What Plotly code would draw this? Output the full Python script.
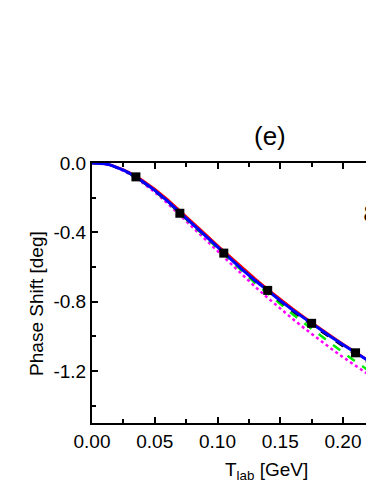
import plotly.graph_objects as go

# lab kinetic energy grid [GeV]
t_lab = [0.0, 0.005, 0.01, 0.015, 0.02, 0.025, 0.03, 0.035, 0.04, 0.045,
         0.05, 0.06, 0.07, 0.08, 0.09, 0.10, 0.11, 0.12, 0.13, 0.14,
         0.15, 0.16, 0.17, 0.18, 0.19, 0.20, 0.21, 0.22, 0.23]

blue_shift = [0.0, -0.001, -0.004, -0.012, -0.025, -0.041, -0.059, -0.081, -0.105, -0.131,
              -0.158, -0.219, -0.285, -0.352, -0.419, -0.486, -0.552, -0.616, -0.678, -0.737,
              -0.794, -0.849, -0.901, -0.952, -1.001, -1.048, -1.094, -1.140, -1.185]
red_shift = [0.0, -0.001, -0.004, -0.011, -0.023, -0.038, -0.055, -0.076, -0.099, -0.124,
             -0.150, -0.209, -0.274, -0.341, -0.408, -0.475, -0.541, -0.605, -0.668, -0.728,
             -0.786, -0.841, -0.894, -0.946, -0.996, -1.044, -1.091, -1.138, -1.185]
black_shift = [0.0, -0.001, -0.004, -0.012, -0.025, -0.042, -0.060, -0.082, -0.106, -0.132,
               -0.159, -0.221, -0.287, -0.354, -0.421, -0.488, -0.554, -0.619, -0.681, -0.741,
               -0.799, -0.855, -0.908, -0.959, -1.009, -1.057, -1.104, -1.151, -1.197]
green_shift = [0.0, -0.001, -0.004, -0.012, -0.025, -0.042, -0.060, -0.082, -0.107, -0.133,
               -0.161, -0.223, -0.290, -0.358, -0.426, -0.494, -0.561, -0.627, -0.692, -0.753,
               -0.814, -0.873, -0.929, -0.985, -1.040, -1.093, -1.145, -1.196, -1.245]
magenta_shift = [0.0, -0.001, -0.004, -0.013, -0.027, -0.045, -0.064, -0.087, -0.113, -0.140,
                 -0.168, -0.232, -0.301, -0.371, -0.441, -0.511, -0.580, -0.648, -0.714, -0.778,
                 -0.840, -0.900, -0.958, -1.014, -1.068, -1.120, -1.170, -1.220, -1.268]

# partial wave analysis points
pwa_t = [0.035, 0.07, 0.105, 0.14, 0.175, 0.21]
pwa_shift = [-0.08, -0.29, -0.52, -0.735, -0.925, -1.095]

x_ticks = [0.0, 0.05, 0.10, 0.15, 0.20]
y_ticks = [0.0, -0.4, -0.8, -1.2]

font = "Arial, Liberation Sans, sans-serif"

fig = go.Figure()
fig.add_trace(go.Scatter(x=t_lab, y=magenta_shift, mode="lines",
                         line=dict(color="#FF00FF", width=2.5, dash="dot")))
fig.add_trace(go.Scatter(x=t_lab, y=green_shift, mode="lines",
                         line=dict(color="#00EE00", width=2.5, dash="dash")))
fig.add_trace(go.Scatter(x=t_lab, y=black_shift, mode="lines",
                         line=dict(color="black", width=2.5, dash="dash")))
fig.add_trace(go.Scatter(x=t_lab, y=red_shift, mode="lines",
                         line=dict(color="#FF0000", width=2.5)))
fig.add_trace(go.Scatter(x=t_lab, y=blue_shift, mode="lines",
                         line=dict(color="#0000FF", width=3)))
fig.add_trace(go.Scatter(x=pwa_t, y=pwa_shift, mode="markers",
                         marker=dict(symbol="square", size=9, color="black")))

# page body adds an 8px offset, so the figure is 8px smaller and runs off the right edge
fig.update_layout(
    width=366, height=476,
    margin=dict(l=84, r=0, t=155, b=61),
    paper_bgcolor="white", plot_bgcolor="white",
    showlegend=False,
    font=dict(family=font, size=19, color="black"),
)
fig.update_xaxes(
    range=[0, 0.2247], showgrid=False, zeroline=False,
    showline=True, linewidth=2, linecolor="black", mirror="ticks",
    ticks="inside", ticklen=6, tickwidth=1.5, tickcolor="black",
    tickvals=x_ticks, ticktext=[f"{v:.2f}" for v in x_ticks],
    minor=dict(ticks="inside", ticklen=4, tickwidth=1.5, tickcolor="black", dtick=0.025, tick0=0),
)
fig.update_yaxes(
    range=[-1.5, 0], showgrid=False, zeroline=False,
    showline=True, linewidth=2, linecolor="black",
    ticks="inside", ticklen=6, tickwidth=1.5, tickcolor="black",
    tickvals=y_ticks, ticktext=[f"{v:.1f}" for v in y_ticks],
    minor=dict(ticks="inside", ticklen=4, tickwidth=1.5, tickcolor="black", dtick=0.2, tick0=0),
)

fig.add_annotation(text="(e)", xref="paper", yref="paper", x=0.631, y=1.104,
                   xanchor="center", yanchor="middle",
                   showarrow=False, font=dict(size=26, family=font))
fig.add_annotation(text="ε", xref="paper", yref="paper", x=0.955, y=0.82,
                   xanchor="left", yanchor="middle", showarrow=False,
                   font=dict(size=36, family="Liberation Serif, Times New Roman, serif"))
fig.add_annotation(text="Phase Shift [deg]", xref="paper", yref="paper", x=-0.195, y=0.458,
                   xanchor="center", yanchor="middle",
                   textangle=-90, showarrow=False, font=dict(size=19, family=font))
fig.add_annotation(text="T<sub>lab</sub> [GeV]", xref="paper", yref="paper", x=0.62, y=-0.185,
                   xanchor="center", yanchor="middle",
                   showarrow=False, font=dict(size=19, family=font))

fig.write_html("out.html")
